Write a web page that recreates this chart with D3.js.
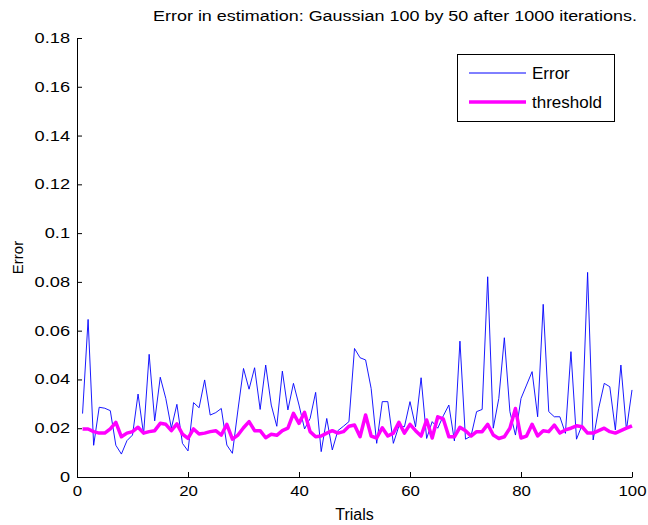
<!DOCTYPE html>
<html><head><meta charset="utf-8">
<script src="https://cdn.jsdelivr.net/npm/d3@7"></script>
<style>
body{margin:0;background:#fff;}
text{font-family:"Liberation Sans",Arial,Helvetica,sans-serif;}
</style></head>
<body>
<svg id="chart" width="648" height="525"></svg>
<script>
const trials = d3.range(1, 101);
const errorValues = [
0.026,0.0646,0.013,0.0286,0.0282,0.0272,0.013,0.0094,0.0149,0.0172,
0.034,0.0175,0.0503,0.023,0.0409,0.0322,0.02,0.0298,0.0138,0.0107,
0.0305,0.0284,0.0398,0.0254,0.0264,0.0281,0.0131,0.0097,0.0275,0.0445,
0.036,0.0448,0.0277,0.0459,0.0295,0.0208,0.0434,0.0275,0.0384,0.0295,
0.0197,0.024,0.0347,0.0104,0.024,0.0111,0.019,0.0208,0.0227,0.0527,
0.0489,0.048,0.0363,0.0138,0.0309,0.0309,0.0138,0.0209,0.0206,0.0309,
0.0206,0.0407,0.0158,0.0227,0.02,0.0251,0.0295,0.0148,0.0557,0.0155,
0.0168,0.0268,0.0277,0.0821,0.02,0.0322,0.0571,0.0268,0.0172,0.0322,
0.0377,0.0432,0.0247,0.0708,0.0268,0.0247,0.0247,0.0179,0.0514,0.0155,
0.0213,0.0839,0.0152,0.0282,0.0384,0.037,0.0193,0.0459,0.0193,0.0357];
const thresholdValues = [
0.0197,0.0197,0.0186,0.018,0.018,0.0197,0.0224,0.0165,0.018,0.0186,
0.0204,0.018,0.0186,0.019,0.022,0.0216,0.019,0.0218,0.0176,0.0158,
0.0197,0.0176,0.018,0.0186,0.019,0.0172,0.0216,0.0155,0.0172,0.0202,
0.0227,0.019,0.019,0.0161,0.0175,0.0171,0.019,0.02,0.0261,0.022,
0.0265,0.0186,0.0165,0.0168,0.018,0.019,0.018,0.0186,0.0208,0.0213,
0.0165,0.0254,0.0168,0.016,0.0202,0.0168,0.018,0.0224,0.018,0.0216,
0.019,0.0168,0.0234,0.016,0.0247,0.0238,0.0165,0.0165,0.0204,0.019,
0.0168,0.0186,0.0186,0.0216,0.0172,0.0158,0.0165,0.02,0.0281,0.016,
0.0168,0.0216,0.0168,0.019,0.0186,0.0213,0.018,0.0193,0.02,0.021,
0.0206,0.018,0.018,0.019,0.02,0.0186,0.018,0.019,0.02,0.021];
const xTicks = [0,20,40,60,80,100];
const yTicks = [0,0.02,0.04,0.06,0.08,0.1,0.12,0.14,0.16,0.18];
const seriesNames = ["Error","threshold"];
const seriesColors = ["#0000ff","#ff00ff"];

const svg = d3.select("#chart");
const L=77, R=632, T=38, B=477;
const x = d3.scaleLinear().domain([0,100]).range([L,R]);
const y = d3.scaleLinear().domain([0,0.18]).range([B,T]);
const fs = 14;

function stretch(sel, k){
  sel.each(function(){
    const w = this.getComputedTextLength();
    d3.select(this).attr("textLength", w*k).attr("lengthAdjust","spacingAndGlyphs");
  });
}

// axes
const xAxis = d3.axisBottom(x).tickValues(xTicks).tickSizeInner(-5).tickSizeOuter(0).tickPadding(9).tickFormat(d3.format("d"));
const gx = svg.append("g").attr("transform",`translate(0,${B})`).call(xAxis);
const yAxis = d3.axisLeft(y).tickValues(yTicks).tickSizeInner(-5).tickSizeOuter(0).tickPadding(7).tickFormat(d=>d===0?"0":String(+d.toFixed(2)));
const gy = svg.append("g").attr("transform",`translate(${L},0)`).call(yAxis);
[gx,gy].forEach(g=>{
  g.select(".domain").attr("stroke","#000").attr("stroke-width",1);
  g.selectAll("line").attr("stroke","#000").attr("stroke-width",1);
  g.selectAll("text").attr("font-size",fs).attr("fill","#000").style("font-family","'Liberation Sans',Arial,sans-serif");
});
stretch(gx.selectAll("text"),1.2);
stretch(gy.selectAll("text"),1.3);

const line = d3.line().x((d,i)=>x(trials[i])).y(d=>y(d));
svg.append("path").datum(errorValues).attr("d",line).attr("fill","none")
  .attr("stroke",seriesColors[0]).attr("stroke-width",0.9);
svg.append("path").datum(thresholdValues).attr("d",line).attr("fill","none")
  .attr("stroke",seriesColors[1]).attr("stroke-width",3.5).attr("stroke-linejoin","round");

// title & labels
svg.append("text").attr("x",153).attr("y",21).attr("font-size",fs)
  .attr("textLength",484).attr("lengthAdjust","spacingAndGlyphs")
  .text("Error in estimation: Gaussian 100 by 50 after 1000 iterations.");
svg.append("text").attr("x",(L+R)/2).attr("y",520).attr("text-anchor","middle").attr("font-size",16).text("Trials");
svg.append("text").attr("transform",`translate(23,${(T+B)/2}) rotate(-90)`).attr("text-anchor","middle").attr("font-size",15).text("Error");

// legend
const lg = svg.append("g");
lg.append("rect").attr("x",457.5).attr("y",54.5).attr("width",157).attr("height",67).attr("fill","#fff").attr("stroke","#000").attr("stroke-width",1);
const ly=[73,102], lw=[1,3.5];
seriesNames.forEach((n,i)=>{
  lg.append("line").attr("x1",469).attr("x2",526).attr("y1",ly[i]).attr("y2",ly[i]).attr("stroke",seriesColors[i]).attr("stroke-width",lw[i]);
  lg.append("text").attr("x",532).attr("y",ly[i]+6).attr("font-size",17).text(n);
});
</script>
</body></html>
